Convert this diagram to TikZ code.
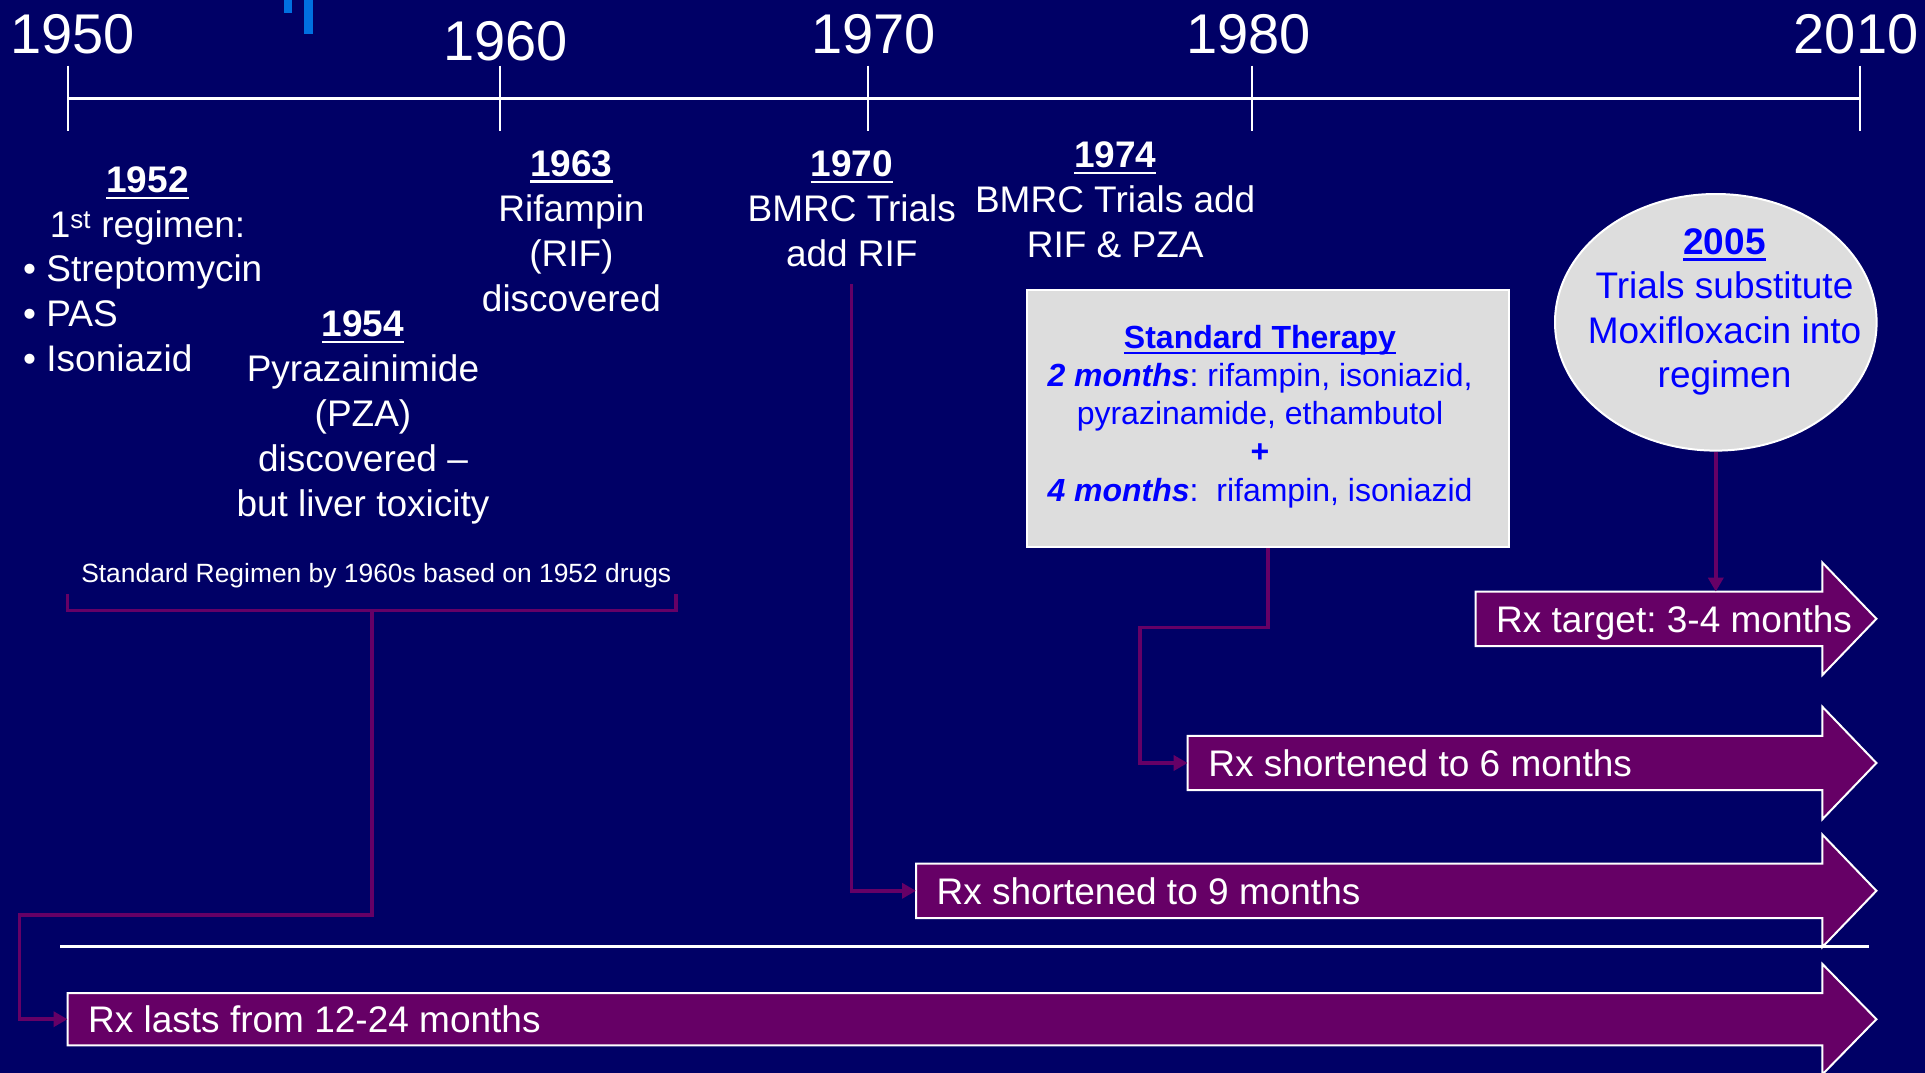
\documentclass[tikz,border=0pt]{standalone}
\usepackage{fontspec}
\setmainfont{Liberation Sans}
\usetikzlibrary{arrows.meta,shapes.geometric,calc}
\definecolor{navy}{RGB}{0,0,102}
\definecolor{plum}{RGB}{102,0,102}
\definecolor{boxgray}{RGB}{221,221,221}
\definecolor{txtblue}{RGB}{0,0,255}
\definecolor{markblue}{RGB}{0,112,224}
\pgfdeclarelayer{bglayer}
\pgfdeclarelayer{backlayer}
\pgfsetlayers{bglayer,backlayer,main}
\frenchspacing
\newcommand\yearul[1]{\setbox0\hbox{\bfseries #1}\rlap{\rule[-0.18em]{\wd0}{0.065em}}\box0}
\newcommand\blk[2]{\begin{tabular}[t]{@{}#1@{}}#2\end{tabular}}
\newcommand\barpoly[1]{\draw[barfill] (#1.north west) -- (#1.north east) -- ++(0,-29) -- ($(#1.east)+(54,0)$) -- ($(#1.south east)+(0,29)$) -- (#1.south east) -- (#1.south west) -- cycle;}
\tikzset{
  evt/.style={text=white, font=\fontsize{37}{45}\selectfont, inner sep=0pt, anchor=base},
  yearlbl/.style={text=white, font=\fontsize{56}{60}\selectfont, inner sep=0pt, anchor=base},
  smalllbl/.style={text=white, font=\fontsize{26.4}{30}\selectfont, inner sep=0pt, anchor=base},
  bluetxt/.style={text=txtblue, inner sep=0pt, anchor=base},
  conn/.style={draw=plum, line width=3.5pt},
  tipped/.style={-{Triangle[length=14pt,width=15pt]}},
  barshaft/.style={minimum height=54pt, inner sep=0pt, anchor=west},
  bartext/.style={text=white, font=\fontsize{37}{45}\selectfont, inner sep=0pt, anchor=base west},
  barfill/.style={fill=plum, draw=white, line width=2pt},
  graybox/.style={fill=boxgray, draw=white, line width=2pt},
  axis/.style={draw=white, line width=2.5pt},
  tick/.style={draw=white, line width=2pt},
}
\begin{document}
\begin{tikzpicture}[x=1pt,y=-1pt]
\useasboundingbox (0,0) rectangle (1925,1073);
\clip (0,0) rectangle (1925,1073);
\begin{pgfonlayer}{bglayer}
  \fill[navy] (0,0) rectangle (1925,1073);
  \fill[markblue] (283.5,0) rectangle (292.4,12.7);
  \fill[markblue] (303.6,0) rectangle (312.5,34.3);
\end{pgfonlayer}

% timeline
\coordinate (t50) at (67.5,98.3);
\coordinate (t10) at (1860,98.3);
\draw[axis] (t50) -- (t10);
\foreach \xx in {67.5,499.7,868,1251.6,1860}
  \draw[tick] (\xx,65.7) -- (\xx,130.7);
\node[yearlbl] (y50) at (72.6,53.3) {1950};
\node[yearlbl] (y60) at (505.6,60) {1960};
\node[yearlbl] (y70) at (873.8,53.3) {1970};
\node[yearlbl] (y80) at (1248.8,53.3) {1980};
\node[yearlbl] (y10) at (1856,53.3) {2010};

% events
\node[evt] (e52) at (147.5,192.5) {\blk{c}{\yearul{1952}\\1\textsuperscript{st} regimen:}};
\node[evt, anchor=base west] (e52l) at (23,281) {\blk{l}{\textbullet\ Streptomycin\\\textbullet\ PAS\\\textbullet\ Isoniazid}};
\node[evt] (e54) at (363,336.7) {\blk{c}{\yearul{1954}\\Pyrazainimide\\(PZA)\\discovered --\\but liver toxicity}};
\node[evt] (e63) at (571.4,176) {\blk{c}{\yearul{1963}\\Rifampin\\(RIF)\\discovered}};
\node[evt] (e70) at (851.8,176.7) {\blk{c}{\yearul{1970}\\BMRC Trials\\add RIF}};
\node[evt] (e74) at (1115.2,167.3) {\blk{c}{\yearul{1974}\\BMRC Trials add\\RIF \& PZA}};

\node[smalllbl] (stdreg) at (376.3,582.5) {Standard Regimen by 1960s based on 1952 drugs};

% standard therapy box
\node[graybox, minimum width=482pt, minimum height=257pt, inner sep=0pt] (std) at (1268,418.5) {};
\node[bluetxt, font=\fontsize{32}{38.2}\selectfont] (stdt) at (1260,348.3)
  {\blk{c}{\yearul{Standard Therapy}\\\textbf{\textit{2 months}}: rifampin, isoniazid,\\pyrazinamide, ethambutol\\\textbf{+}\\\textbf{\textit{4 months}}:\ \ rifampin, isoniazid}};

% ellipse
\node[graybox, ellipse, minimum width=321.6pt, minimum height=256.6pt, inner sep=0pt] (ell) at (1715.8,322.3) {};
\node[bluetxt, font=\fontsize{37}{44.5}\selectfont] (ellt) at (1724.5,254)
  {\blk{c}{\yearul{2005}\\Trials substitute\\Moxifloxacin into\\regimen}};

% bars
\node[barshaft, minimum width=1754.5pt, minimum height=52pt] (b1) at (67.5,1019.2) {};
\node[barshaft, minimum width=906pt] (b2) at (916,890.8) {};
\node[barshaft, minimum width=634.4pt] (b3) at (1187.6,763) {};
\node[barshaft, minimum width=346.5pt] (b4) at (1475.5,618.8) {};
\begin{pgfonlayer}{backlayer}
  \barpoly{b1}
  \barpoly{b2}
  \barpoly{b3}
  \barpoly{b4}
\end{pgfonlayer}
\node[bartext] (b1t) at ($(b1.west)+(20.5,13.5)$) {Rx lasts from 12-24 months};
\node[bartext] (b2t) at ($(b2.west)+(20.5,13.5)$) {Rx shortened to 9 months};
\node[bartext] (b3t) at ($(b3.west)+(20.5,13.5)$) {Rx shortened to 6 months};
\node[bartext] (b4t) at ($(b4.west)+(20.5,13.5)$) {Rx target: 3-4 months};

% separator
\draw[white, line width=2.5pt] (60,946.5) -- (1868.6,946.5);

% connectors
\coordinate (brL) at (67.5,594);
\coordinate (brR) at (676,594);
\coordinate (brM) at (372,610.4);
\draw[conn] (brL) |- (brM) -| (brR);
\draw[conn, tipped] (brM) -- (372,915) -| ($(b1.west)+(-48,0)$) -- (b1.west);
\coordinate (c70) at (851.7,284);
\draw[conn, tipped] (c70) |- (b2.west);
\draw[conn, tipped] (std.south) -- ++(0,79.5) -| ($(b3.west)+(-47.8,0)$) -- (b3.west);
\draw[conn, tipped] (ell.south) -- (ell.south |- b4.north);
\end{tikzpicture}
\end{document}
